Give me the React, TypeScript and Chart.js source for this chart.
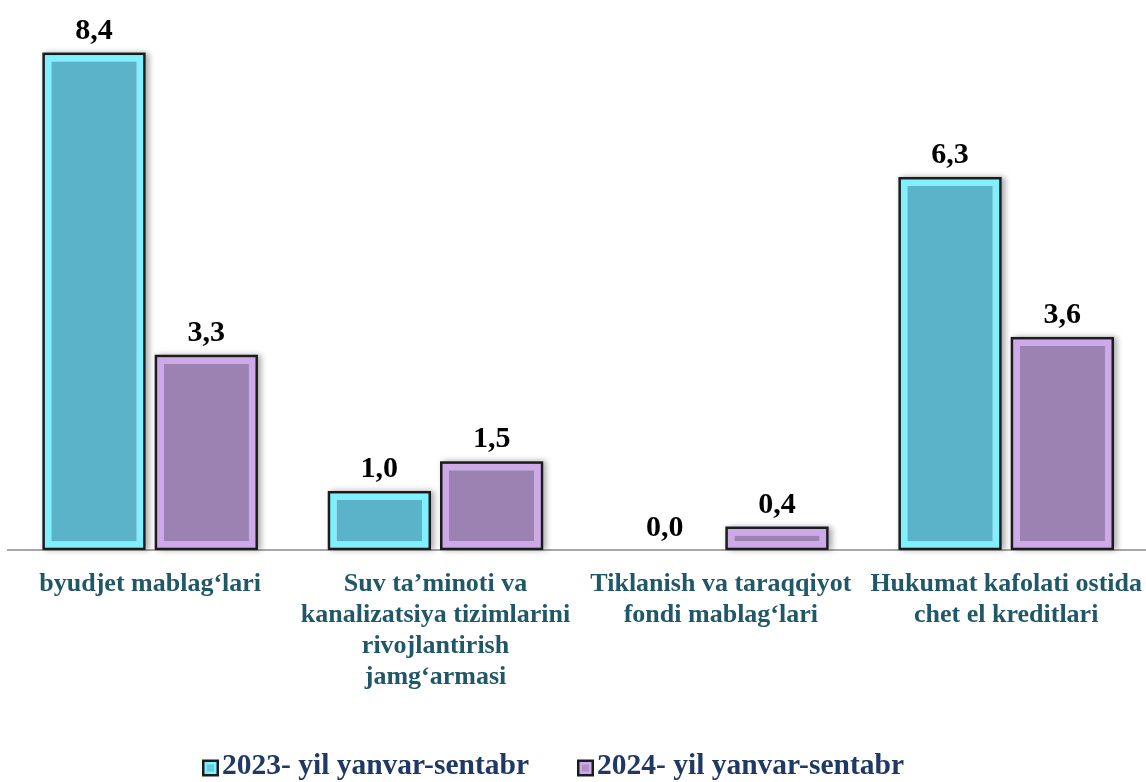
import React, { useEffect, useRef } from "react";
import { Chart, registerables } from "chart.js";

Chart.register(...registerables);

const categories: (string | string[])[] = [
  "byudjet mablag‘lari",
  ["Suv ta’minoti va", "kanalizatsiya tizimlarini", "rivojlantirish", "jamg‘armasi"],
  ["Tiklanish va taraqqiyot", "fondi mablag‘lari"],
  ["Hukumat kafolati ostida", "chet el kreditlari"],
];
const series2023 = [8.4, 1.0, 0.0, 6.3];
const series2024 = [3.3, 1.5, 0.4, 3.6];
const seriesNames = ["2023- yil yanvar-sentabr", "2024- yil yanvar-sentabr"];

const FILLS = ["#5ab3c9", "#9b82b2"];
const BEVELS = ["#80f0ff", "#cda9ea"];
const OUTLINE = "#1c1c1c";
const SERIF = "'Liberation Serif', 'Times New Roman', serif";

const fmt = (v: number) => v.toFixed(1).replace(".", ",");

const barDecor = {
  id: "barDecor",
  beforeDatasetsDraw(chart: any) {
    const ctx = chart.ctx;
    chart.data.datasets.forEach((ds: any, di: number) => {
      const meta = chart.getDatasetMeta(di);
      meta.data.forEach((bar: any, i: number) => {
        const v = ds.data[i];
        if (!v) return;
        const left = bar.x - bar.width / 2;
        const top = Math.min(bar.y, bar.base);
        const h = Math.abs(bar.base - bar.y);
        ctx.save();
        ctx.shadowColor = "rgba(0,0,0,0.35)";
        ctx.shadowBlur = 6;
        ctx.shadowOffsetX = 3;
        ctx.shadowOffsetY = 0;
        ctx.fillStyle = "#ffffff";
        ctx.fillRect(left, top, bar.width, h);
        ctx.restore();
      });
    });
  },
  afterDatasetsDraw(chart: any) {
    const ctx = chart.ctx;
    chart.data.datasets.forEach((ds: any, di: number) => {
      const meta = chart.getDatasetMeta(di);
      meta.data.forEach((bar: any, i: number) => {
        const v = ds.data[i];
        const left = bar.x - bar.width / 2;
        const top = Math.min(bar.y, bar.base);
        const h = Math.abs(bar.base - bar.y);
        if (v) {
          ctx.save();
          ctx.strokeStyle = OUTLINE;
          ctx.lineWidth = 2.5;
          ctx.strokeRect(left + 1.25, top + 1.25, bar.width - 2.5, h - 2.5);
          ctx.restore();
        }
        ctx.save();
        ctx.font = `bold 30px ${SERIF}`;
        ctx.fillStyle = "#000000";
        ctx.textAlign = "center";
        ctx.textBaseline = "alphabetic";
        ctx.fillText(fmt(v), bar.x, top - 14);
        ctx.restore();
      });
    });
  },
  afterDraw(chart: any) {
    const ctx = chart.ctx;
    const items = [
      { box: 202, text: 222 },
      { box: 577, text: 597 },
    ];
    const cy = 768;
    items.forEach((it, i) => {
      ctx.save();
      ctx.fillStyle = OUTLINE;
      ctx.fillRect(it.box, cy - 8.5, 17, 17);
      ctx.fillStyle = BEVELS[i];
      ctx.fillRect(it.box + 2.5, cy - 6, 12, 12);
      ctx.fillStyle = FILLS[i];
      ctx.globalAlpha = 0.6;
      ctx.fillRect(it.box + 5, cy - 3.5, 7, 7);
      ctx.globalAlpha = 1;
      ctx.font = `bold 29.5px ${SERIF}`;
      ctx.fillStyle = "#1f3864";
      ctx.textAlign = "left";
      ctx.textBaseline = "alphabetic";
      ctx.fillText(seriesNames[i], it.text, 774);
      ctx.restore();
    });
  },
};

export default function App() {
  const ref = useRef<HTMLCanvasElement | null>(null);
  useEffect(() => {
    if (!ref.current) return;
    const chart = new Chart(ref.current, {
      type: "bar",
      data: {
        labels: categories as any,
        datasets: [
          {
            label: seriesNames[0],
            data: series2023,
            backgroundColor: FILLS[0],
            borderColor: BEVELS[0],
            borderWidth: 9,
            borderSkipped: false,
          },
          {
            label: seriesNames[1],
            data: series2024,
            backgroundColor: FILLS[1],
            borderColor: BEVELS[1],
            borderWidth: 9,
            borderSkipped: false,
          },
        ],
      },
      options: {
        animation: false,
        responsive: true,
        maintainAspectRatio: false,
        categoryPercentage: 0.787,
        barPercentage: 0.92,
        layout: { padding: { top: 17, left: 7.5, right: 0, bottom: 79 } },
        plugins: {
          legend: { display: false },
          tooltip: { enabled: false },
        },
        scales: {
          x: {
            grid: { display: false },
            border: { display: true, color: "#a6a6a6", width: 2 },
            ticks: {
              autoSkip: false,
              maxRotation: 0,
              minRotation: 0,
              padding: 10,
              color: "#215868",
              font: { family: SERIF, size: 26, weight: "bold", lineHeight: 1.2 },
            },
          },
          y: {
            display: false,
            min: 0,
            max: 9,
          },
        },
      },
      plugins: [barDecor],
    });
    return () => chart.destroy();
  }, []);
  return (
    <div style={{ position: "absolute", left: 0, top: 0, width: 1146, height: 782, overflow: "hidden", background: "#ffffff" }}>
      <div style={{ position: "relative", width: 1152, height: 782 }}>
        <canvas ref={ref} />
      </div>
    </div>
  );
}
